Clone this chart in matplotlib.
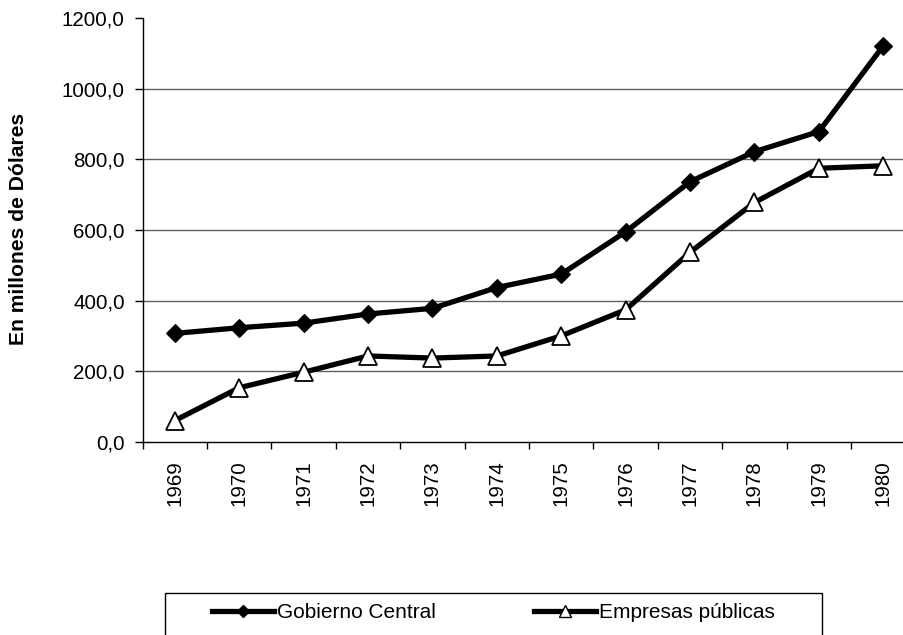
import matplotlib
matplotlib.use("Agg")
import matplotlib.pyplot as plt
from matplotlib.lines import Line2D
from matplotlib.patches import Rectangle
from matplotlib.ticker import FixedLocator, FuncFormatter

plt.rcParams['font.family'] = ['Liberation Sans', 'DejaVu Sans']

years = ['1969', '1970', '1971', '1972', '1973', '1974',
         '1975', '1976', '1977', '1978', '1979', '1980']
gobierno_central = [307, 323, 336, 362, 378, 437, 475, 595, 737, 822, 879, 1122]
empresas_publicas = [60, 153, 197, 243, 237, 243, 300, 374, 537, 678, 775, 782]
y_ticks = [0, 200, 400, 600, 800, 1000, 1200]

W, H = 904, 635
fig = plt.figure(figsize=(W / 100, H / 100), dpi=100)

# plot area in pixel units (right edge runs past the figure border)
left_px, right_px, top_px, bottom_px = 142.7, 915.5, 18.3, 441.7
ax = fig.add_axes([left_px / W, 1 - bottom_px / H,
                   (right_px - left_px) / W, (bottom_px - top_px) / H])

x = list(range(len(years)))
ax.plot(x, gobierno_central, color='black', lw=3.8, marker='D', ms=9.2,
        mfc='black', mec='black', mew=0.8, zorder=3, clip_on=False)
ax.plot(x, empresas_publicas, color='black', lw=3.8, marker='^', ms=13.5,
        mfc='white', mec='black', mew=1.3, zorder=3, clip_on=False)

ax.set_xlim(-0.5, len(years) - 0.5)
ax.set_ylim(0, 1200)

# y axis
ax.set_yticks(y_ticks)
ax.yaxis.set_major_formatter(FuncFormatter(lambda v, p: f"{v:.1f}".replace('.', ',')))
ax.tick_params(axis='y', direction='out', length=6, width=1, pad=7,
               labelsize=14.8, colors='black')
for v in y_ticks[1:-1]:
    ax.axhline(v, color='#606060', lw=1, zorder=1)

# x axis: ticks at category boundaries, labels at centres
ax.xaxis.set_major_locator(FixedLocator([i - 0.5 for i in range(len(years) + 1)]))
ax.xaxis.set_minor_locator(FixedLocator(x))
ax.xaxis.set_major_formatter(FuncFormatter(lambda v, p: ''))
ax.set_xticks(x, minor=True)
ax.set_xticklabels(years, minor=True, rotation=90, fontsize=14.8)
ax.tick_params(axis='x', which='major', direction='out', length=5, width=1)
ax.tick_params(axis='x', which='minor', length=0, pad=13.5)

for s in ['top', 'right']:
    ax.spines[s].set_visible(False)
ax.spines['left'].set_linewidth(1)
ax.spines['bottom'].set_linewidth(1)

fig.text(19 / W, 1 - 229 / H, 'En millones de Dólares', rotation=90,
         fontsize=15.2, fontweight='bold', ha='center', va='center')

# legend
handles = [
    Line2D([], [], color='black', lw=3.8, marker='D', ms=5.8, mfc='black', mec='black'),
    Line2D([], [], color='black', lw=3.8, marker='^', ms=8, mfc='white', mec='black', mew=1),
]
fig.legend(handles, ['Gobierno Central', 'Empresas públicas'], ncol=2,
           loc='center left', bbox_to_anchor=(211.7 / W, 1 - 612.3 / H),
           frameon=False, borderpad=0, borderaxespad=0, fontsize=15,
           handlelength=2.98, handletextpad=0.15, columnspacing=4.7)
fig.patches.append(Rectangle((165 / W, -0.1), (821.7 - 165) / W, (1 - 593.3 / H) + 0.1,
                             transform=fig.transFigure, fill=False,
                             edgecolor='black', lw=1))

fig.savefig('out.png', dpi=100)
